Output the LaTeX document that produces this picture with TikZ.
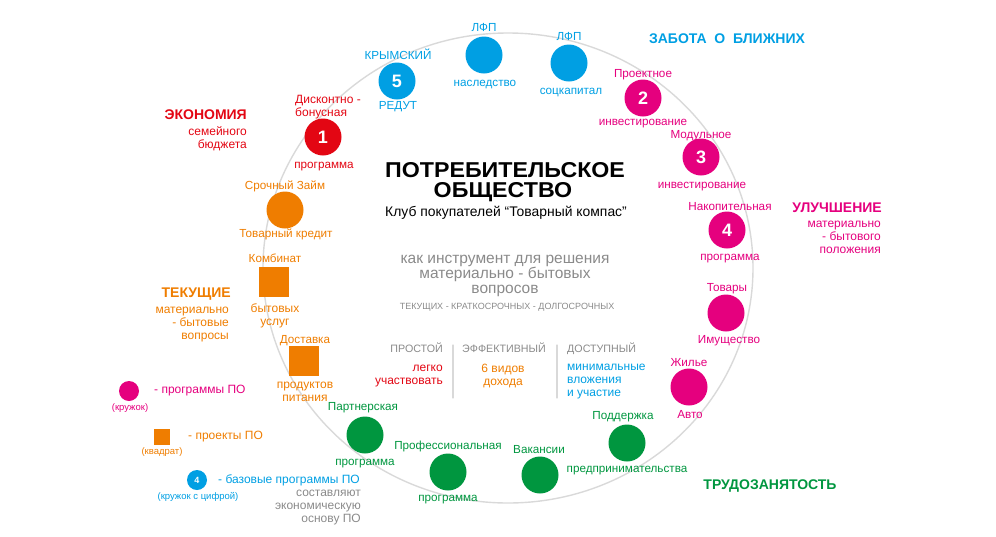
\documentclass[tikz,border=0pt]{standalone}
\usepackage{graphicx}
\usepackage{fontspec}
\setmainfont{Liberation Sans}

\definecolor{econ}{HTML}{E30613}
\definecolor{care}{HTML}{009FE3}
\definecolor{impr}{HTML}{E5007E}
\definecolor{curr}{HTML}{EF7D00}
\definecolor{work}{HTML}{00963F}
\definecolor{note}{HTML}{8A8A8A}
\definecolor{ringgray}{HTML}{D9D9D9}

\begin{document}
\begin{tikzpicture}[x=1pt, y=-1pt, line cap=round,
  prog/.style={circle, fill=#1, minimum size=37pt, inner sep=0pt, text=white,
    font=\fontsize{18}{18}\selectfont\bfseries},
  proj/.style={rectangle, fill=curr, minimum size=30pt, inner sep=0pt},
  lbl/.style={inner sep=0pt, text=#1, font=\fontsize{11.7}{12.5}\selectfont,
    text height=8.4pt, text depth=2.4pt},
  txt/.style={inner sep=0pt, text=#1, font=\fontsize{12}{13}\selectfont},
  head/.style={inner sep=0pt, text=#1, font=\fontsize{14}{15}\selectfont\bfseries},
  bigtitle/.style={inner sep=0pt, anchor=base, font=\fontsize{21.5}{22}\selectfont\bfseries}]
  \useasboundingbox (0,0) rectangle (996,536);
  % --- ring ---
  \draw[ringgray, line width=1.4pt] (508,268) ellipse [x radius=245, y radius=235];
  % --- centre texts ---
  \node[bigtitle] (title) at (505,177) {\scalebox{1.08}[1]{ПОТРЕБИТЕЛЬСКОЕ}};
  \node[bigtitle] (title2) at (503,197) {\scalebox{1.08}[1]{ОБЩЕСТВО}};
  \node[inner sep=0pt, anchor=base, font=\fontsize{13.9}{14}\selectfont] (club) at (506,216) {Клуб покупателей “Товарный компас”};
  \node[inner sep=0pt, align=center, text=note, font=\fontsize{15.5}{15}\selectfont] (tool) at (505,276) {как инструмент для решения\\материально - бытовых\\вопросов};
  \node[inner sep=0pt, anchor=base, text=note, font=\fontsize{9}{9}\selectfont] (terms) at (507,309.5) {ТЕКУЩИХ - КРАТКОСРОЧНЫХ - ДОЛГОСРОЧНЫХ};
  % --- three columns ---
  \node[inner sep=0pt, anchor=base east, text=note, font=\fontsize{10.7}{11}\selectfont] (simple) at (443,352) {ПРОСТОЙ};
  \node[inner sep=0pt, anchor=base, text=note, font=\fontsize{10.7}{11}\selectfont] (effect) at (504,352) {ЭФФЕКТИВНЫЙ};
  \node[inner sep=0pt, anchor=base west, text=note, font=\fontsize{10.7}{11}\selectfont] (access) at (567,352) {ДОСТУПНЫЙ};
  \node[txt=econ, anchor=east, align=right] (simpleT) at (443,376) {легко\\участвовать};
  \node[txt=curr, align=center] (effectT) at (503,375.5) {6 видов\\дохода};
  \node[txt=care, anchor=west, align=left] (accessT) at (567,381.5) {минимальные\\вложения\\и участие};
  \coordinate (d1a) at (453,345);
  \coordinate (d1b) at (453,398);
  \coordinate (d2a) at (557,345);
  \coordinate (d2b) at (557,398);
  \draw[ringgray, line width=1.2pt] (d1a) -- (d1b);
  \draw[ringgray, line width=1.2pt] (d2a) -- (d2b);
  % --- headings ---
  \node[head=econ, anchor=east] (econH) at (247,115) {ЭКОНОМИЯ};
  \node[txt=econ, anchor=east, align=right] (econS) at (247,138.5) {семейного\\бюджета};
  \node[head=care] (careH) at (727,39) {ЗАБОТА~~О~~БЛИЖНИХ};
  \node[head=impr, anchor=east] (imprH) at (882,208) {УЛУЧШЕНИЕ};
  \node[txt=impr, anchor=east, align=right] (imprS) at (881,237.5) {материально\\- бытового\\положения};
  \node[head=curr, anchor=east] (currH) at (231,294) {ТЕКУЩИЕ};
  \node[txt=curr, anchor=east, align=right] (currS) at (229,324.5) {материально\\- бытовые\\вопросы};
  \node[head=work] (workH) at (770,486) {ТРУДОЗАНЯТОСТЬ};
  % --- care (blue) ---
  \node[prog=care] (c5) at (397,81) {5};
  \node[lbl=care] (c5a) at (398,56) {КРЫМСКИЙ};
  \node[lbl=care] (c5b) at (398,106) {РЕДУТ};
  \node[prog=care] (lfp1) at (484,55) {};
  \node[lbl=care] (lfp1a) at (484,28) {ЛФП};
  \node[lbl=care] (lfp1b) at (485,83) {наследство};
  \node[prog=care] (lfp2) at (569,63) {};
  \node[lbl=care] (lfp2a) at (569,37) {ЛФП};
  \node[lbl=care] (lfp2b) at (571,91) {соцкапитал};
  % --- improvement (magenta) ---
  \node[prog=impr] (c2) at (643,98) {2};
  \node[lbl=impr] (c2a) at (643,74) {Проектное};
  \node[lbl=impr] (c2b) at (643,122) {инвестирование};
  \node[prog=impr] (c3) at (701,157) {3};
  \node[lbl=impr] (c3a) at (701,135) {Модульное};
  \node[lbl=impr] (c3b) at (702,185) {инвестирование};
  \node[prog=impr] (c4) at (727,230) {4};
  \node[lbl=impr] (c4a) at (730,207) {Накопительная};
  \node[lbl=impr] (c4b) at (730,257) {программа};
  \node[prog=impr] (goods) at (726,313) {};
  \node[lbl=impr] (goodsA) at (727,288) {Товары};
  \node[lbl=impr] (goodsB) at (729,340) {Имущество};
  \node[prog=impr] (home) at (689,387) {};
  \node[lbl=impr] (homeA) at (689,363) {Жилье};
  \node[lbl=impr] (homeB) at (690,415) {Авто};
  % --- economy (red) ---
  \node[prog=econ] (c1) at (323,137) {1};
  \node[txt=econ, anchor=west, align=left] (c1a) at (295,107) {Дисконтно -\\бонусная};
  \node[lbl=econ] (c1b) at (324,165) {программа};
  % --- current (orange) ---
  \node[prog=curr] (loan) at (285,210) {};
  \node[lbl=curr] (loanA) at (285,186) {Срочный Займ};
  \node[lbl=curr] (loanB) at (286,234) {Товарный кредит};
  \node[proj] (kombi) at (274,282) {};
  \node[lbl=curr] (kombiA) at (275,259) {Комбинат};
  \node[txt=curr, align=center] (kombiB) at (275,315.5) {бытовых\\услуг};
  \node[proj] (deliv) at (304,361) {};
  \node[lbl=curr] (delivA) at (305,340) {Доставка};
  \node[txt=curr, align=center] (delivB) at (305,391.5) {продуктов\\питания};
  % --- employment (green) ---
  \node[prog=work] (partner) at (365,435) {};
  \node[lbl=work] (partnerA) at (363,407) {Партнерская};
  \node[lbl=work] (partnerB) at (365,462) {программа};
  \node[prog=work] (prof) at (448,472) {};
  \node[lbl=work] (profA) at (448,446) {Профессиональная};
  \node[lbl=work] (profB) at (448,498) {программа};
  \node[prog=work] (vac) at (540,475) {};
  \node[lbl=work] (vacA) at (539,450) {Вакансии};
  \node[prog=work] (supp) at (627,443) {};
  \node[lbl=work] (suppA) at (623,416) {Поддержка};
  \node[lbl=work] (suppB) at (627,469) {предпринимательства};
  % --- legend ---
  \node[circle, fill=impr, minimum size=20pt, inner sep=0pt] (lgProg) at (129,391) {};
  \node[txt=impr, anchor=west] (lgProgT) at (154,391) {- программы ПО};
  \node[inner sep=0pt, text=impr, font=\fontsize{9.5}{10}\selectfont] (lgProgS) at (130,408) {(кружок)};
  \node[proj, minimum size=16pt] (lgProj) at (162,437) {};
  \node[txt=curr, anchor=west] (lgProjT) at (188,437) {- проекты ПО};
  \node[inner sep=0pt, text=curr, font=\fontsize{9.5}{10}\selectfont] (lgProjS) at (162,452) {(квадрат)};
  \node[circle, fill=care, minimum size=20pt, inner sep=0pt, text=white, font=\fontsize{9}{9}\selectfont\bfseries] (lgBase) at (197,480) {4};
  \node[txt=care, anchor=west] (lgBaseT) at (218,480) {- базовые программы ПО};
  \node[inner sep=0pt, text=care, font=\fontsize{9.5}{10}\selectfont] (lgBaseS) at (198,497) {(кружок с цифрой)};
  \node[txt=note, anchor=east, align=right] (lgNote) at (361,507.5) {составляют\\экономическую\\основу ПО};
\end{tikzpicture}
\end{document}
